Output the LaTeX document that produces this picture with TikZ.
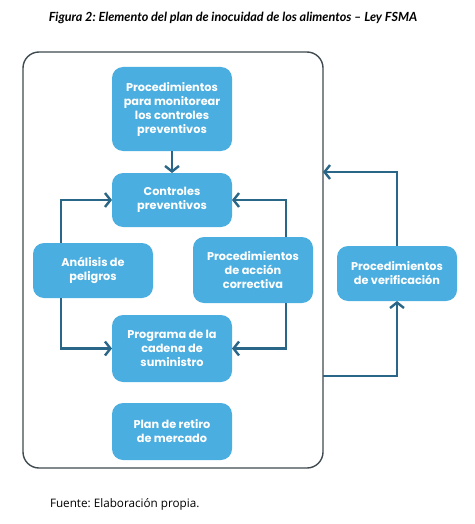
\documentclass[tikz,border=0pt]{standalone}
\usepackage{fontspec}
\setmainfont{Open Sans}
\newfontfamily\boxfont{Poppins}
\newfontfamily\titlefont{Lato}
\usetikzlibrary{arrows.meta}
\frenchspacing
\definecolor{boxblue}{HTML}{4AAEE0}
\definecolor{arrowblue}{HTML}{2A6688}
\definecolor{framegray}{HTML}{3E4A50}
\tikzset{
  every node/.style={inner sep=0pt, outer sep=0pt},
  bluebox/.style={fill=boxblue, rounded corners=11pt, minimum width=120pt, align=center,
    text=white, font=\boxfont\bfseries\fontsize{11.3}{14}\selectfont},
  conn/.style={draw=arrowblue, line width=2.6pt, -{Straight Barb[length=5.5pt,width=14pt,line width=2.4pt]}},
}
\begin{document}
\begin{tikzpicture}[x=1pt,y=-1pt]
\useasboundingbox (0,0) rectangle (474,524);
\node[font=\titlefont\bfseries\itshape\fontsize{12.6}{14}\selectfont] (title) at (233,18) {Figura 2: Elemento del plan de inocuidad de los alimentos – Ley FSMA};
\node[draw=framegray, line width=1.4pt, rounded corners=16pt, minimum width=300pt, minimum height=416pt] (frame) at (173,260) {};
\node[bluebox, minimum height=84pt] (m) at (172,109) {Procedimientos\\para monitorear\\los controles\\preventivos};
\node[bluebox, minimum height=54pt] (c) at (172,200) {Controles\\preventivos};
\node[bluebox, minimum height=55pt] (a) at (93,270.5) {Análisis de\\peligros};
\node[bluebox, minimum height=66pt] (r) at (253,270) {Procedimientos\\de acción\\correctiva};
\node[bluebox, minimum height=67pt] (p) at (172,348.5) {Programa de la\\cadena de\\suministro};
\node[bluebox, minimum height=57pt] (w) at (172,431.5) {Plan de retiro\\de mercado};
\node[bluebox, minimum height=55pt] (v) at (397,273.5) {Procedimientos\\de verificación};
\coordinate (fin) at (323,172);
\coordinate (fout) at (323,376);
\node[anchor=west, font=\fontsize{11.7}{13}\selectfont] (src) at (50,504) {Fuente: Elaboración propia.};
\draw[conn] (m.south) -- (c.north);
\draw[conn] ([xshift=-32pt]a.north) |- (c.west);
\draw[conn] ([xshift=-32pt]a.south) |- (p.west);
\draw[conn] ([xshift=33pt]r.north) |- (c.east);
\draw[conn] ([xshift=33pt]r.south) |- (p.east);
\draw[conn] (v.north) |- (fin);
\draw[conn] (fout) -| (v.south);
\end{tikzpicture}
\end{document}
